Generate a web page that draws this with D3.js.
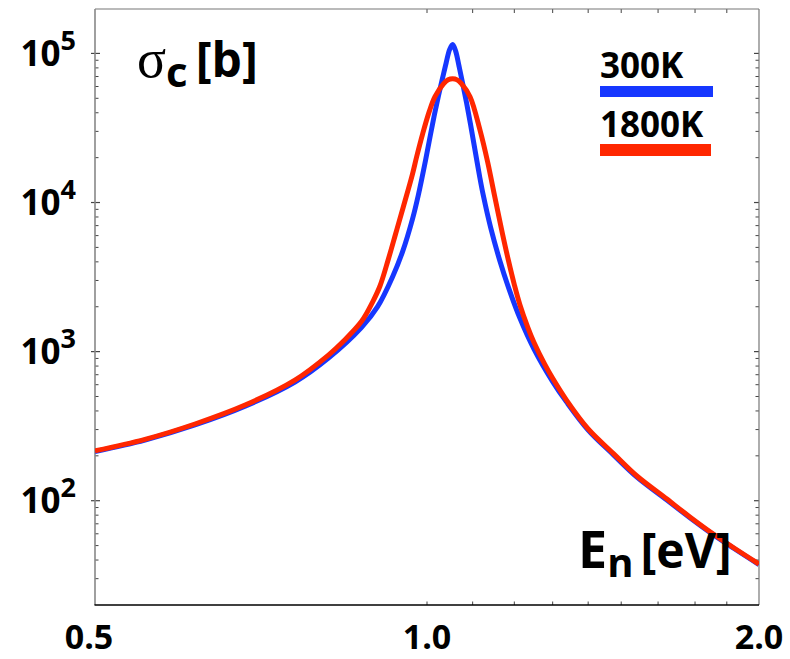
<!DOCTYPE html>
<html><head><meta charset="utf-8">
<script src="https://cdn.jsdelivr.net/npm/d3@7"></script>
<style>
html,body{margin:0;padding:0;background:#fff;}
text{font-family:"Open Sans",sans-serif;font-weight:700;fill:#000;}
</style></head>
<body><svg id="c" width="790" height="659"></svg>
<script>
// 300 K: neutron energy (eV) and capture cross-section (barn)
const energy300 = [0.50,0.555,0.616,0.684,0.759,0.814,0.872,0.902,0.9307,0.9503,0.9704,0.982,0.9971,1.0075,1.016,1.0245,1.0331,1.0407,1.0483,1.055,1.0615,1.0693,1.0772,1.0862,1.0953,1.1045,1.1161,1.1247,1.142,1.1646,1.1858,1.214,1.25,1.30,1.338,1.40,1.476,1.55,1.649,1.73,1.818,1.90,2.00];
const sigma300 = [214,255,322,430,625,905,1450,2001,3180,4686,7800,11190,19280,28750,39400,52400,68500,86200,106100,115000,104100,81900,63200,46500,33200,23300,14990,11170,6810,4035,2674,1678,1044,629,460,298,203,144,101.5,77.3,59.2,47.6,37.3];
// 1800 K: neutron energy (eV) and capture cross-section (barn)
const energy1800 = [0.50,0.555,0.616,0.684,0.759,0.814,0.8385,0.872,0.8926,0.9065,0.9223,0.9365,0.9517,0.97,0.9785,0.9911,1.005,1.0168,1.035,1.045,1.055,1.065,1.075,1.094,1.117,1.135,1.152,1.17,1.185,1.2007,1.214,1.2337,1.25,1.2785,1.30,1.338,1.40,1.476,1.55,1.649,1.73,1.818,1.90,2.00];
const sigma1800 = [216,258,327,438,644,948,1160,1590,2150,2755,4150,6150,9340,15450,20200,29000,41000,51250,62500,66500,67600,66500,62500,51250,30600,18700,10940,6300,4120,2762,2063,1467,1156,824,662,473,303,207,146.5,103,78.2,59.8,48.0,37.6];
const seriesNames = ["300K","1800K"];
const seriesColors = ["#1637ff","#ff2700"];
const xTickLabels = [0.5,1.0,2.0];
const xMinorTicks = [1.0,1.1,1.2,1.3,1.4,1.5,1.62,1.75,1.87];
const yDecades = [2,3,4,5];

const svg = d3.select("#c");
const L=95,R=759,T=9,B=605;
const x = d3.scaleLog().domain([0.5,2.0]).range([L,R]);
const y = d3.scaleLog().domain([Math.pow(10,1.3005),Math.pow(10,5.298)]).range([B,T]);

svg.append("clipPath").attr("id","clip").append("rect")
  .attr("x",L).attr("y",T).attr("width",R-L).attr("height",B-T);

// ticks
const yMinor=[];
for(let d=1;d<=5;d++){for(let m=2;m<=9;m++){const v=m*Math.pow(10,d);const py=y(v);if(py>T+1&&py<B-1)yMinor.push(v);}}
const g=svg.append("g");
yMinor.forEach(v=>{
  g.append("line").attr("x1",L).attr("x2",L+3.5).attr("y1",y(v)).attr("y2",y(v)).attr("stroke","#444").attr("stroke-width",1);
  g.append("line").attr("x1",R).attr("x2",R-3.5).attr("y1",y(v)).attr("y2",y(v)).attr("stroke","#444").attr("stroke-width",1);
});
yDecades.forEach(d=>{
  const v=Math.pow(10,d);
  g.append("line").attr("x1",L-4).attr("x2",L+5).attr("y1",y(v)).attr("y2",y(v)).attr("stroke","#444").attr("stroke-width",1.2);
  g.append("line").attr("x1",R).attr("x2",R-5).attr("y1",y(v)).attr("y2",y(v)).attr("stroke","#444").attr("stroke-width",1.2);
});
xMinorTicks.forEach(v=>{
  g.append("line").attr("x1",x(v)).attr("x2",x(v)).attr("y1",B).attr("y2",B-3.5).attr("stroke","#444").attr("stroke-width",1);
  g.append("line").attr("x1",x(v)).attr("x2",x(v)).attr("y1",T).attr("y2",T+4).attr("stroke","#444").attr("stroke-width",1);
});

// frame
svg.append("line").attr("x1",L).attr("x2",R).attr("y1",T).attr("y2",T).attr("stroke","#777").attr("stroke-width",1.2);
svg.append("line").attr("x1",R).attr("x2",R).attr("y1",T).attr("y2",B).attr("stroke","#777").attr("stroke-width",1.2);
svg.append("line").attr("x1",L).attr("x2",L).attr("y1",T).attr("y2",B).attr("stroke","#888").attr("stroke-width",1.6);
svg.append("line").attr("x1",L-0.5).attr("x2",R).attr("y1",B).attr("y2",B).attr("stroke","#000").attr("stroke-width",1.4);

// curves
const line=d3.line().x(d=>x(d[0])).y(d=>y(d[1])).curve(d3.curveCatmullRom.alpha(0.5));
[[energy300,sigma300],[energy1800,sigma1800]].forEach((s,i)=>{
  svg.append("path").attr("clip-path","url(#clip)")
    .datum(s[0].map((e,k)=>[e,s[1][k]]))
    .attr("d",line).attr("fill","none").attr("stroke",seriesColors[i])
    .attr("stroke-width",5).attr("stroke-linejoin","round");
});

// y labels
yDecades.forEach(d=>{
  const t=svg.append("text").attr("x",76).attr("y",y(Math.pow(10,d))+12.5).attr("text-anchor","end");
  t.append("tspan").attr("font-size",35).text("10");
  t.append("tspan").attr("font-size",27).attr("dy",-16).text(String(d));
});
// x labels
xTickLabels.forEach((v,i)=>{
  svg.append("text").attr("x",x(v)+(i===0?-6:0)).attr("y",649).attr("text-anchor","middle")
    .attr("font-size",34).text(v.toFixed(1));
});

// axis titles
const yt=svg.append("text").attr("x",137).attr("y",77);
yt.append("tspan").attr("font-family","Liberation Serif, serif").attr("font-weight",400).attr("font-size",54).text("σ");
yt.append("tspan").attr("font-size",42).attr("dy",10).text("c");
yt.append("tspan").attr("font-size",48).attr("dy",-10).attr("dx",8).text("[b]");

const xt=svg.append("text").attr("x",578).attr("y",568);
xt.append("tspan").attr("font-size",52).text("E");
xt.append("tspan").attr("font-size",40).attr("dy",9).text("n");
xt.append("tspan").attr("font-size",48).attr("dy",-9).attr("dx",7).text("[eV]");

// legend
const legY=[[78,86,11],[137,144,12]];
seriesNames.forEach((n,i)=>{
  svg.append("text").attr("x",600).attr("y",legY[i][0]).attr("font-size",35).text(n);
  svg.append("rect").attr("x",600).attr("y",legY[i][1]).attr("width",i===0?113:111).attr("height",legY[i][2]).attr("fill",seriesColors[i]);
});
</script></body></html>
